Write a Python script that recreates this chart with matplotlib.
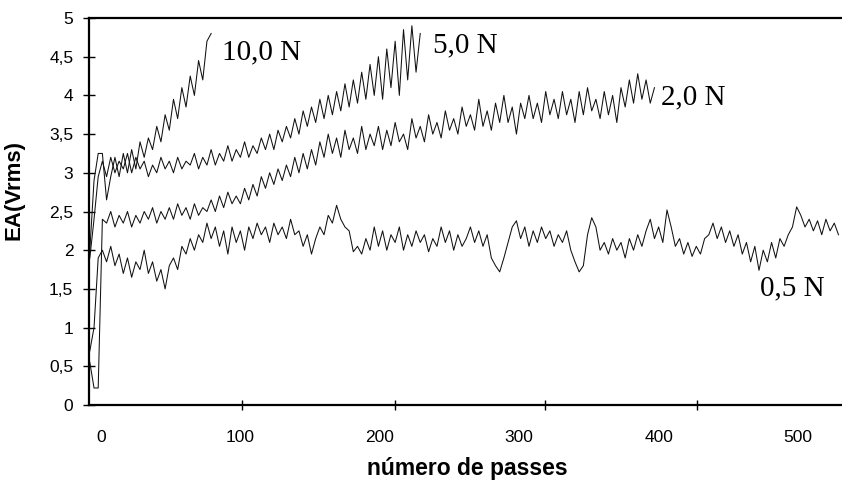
import numpy as np
import matplotlib.pyplot as plt

# EA (Vrms), one value every 3 passes, first pass at -8
start_pass = -8
step = 3

ea_10N = [2.0, 2.9, 3.25, 3.25, 2.65, 2.95, 3.2, 2.95, 3.25, 3.0,
          3.3, 3.05, 3.4, 3.2, 3.45, 3.3, 3.6, 3.4, 3.75, 3.55,
          3.95, 3.7, 4.1, 3.85, 4.25, 4.0, 4.45, 4.2, 4.7, 4.8]

ea_5N = [1.9, 2.4, 2.95, 3.15, 2.95, 3.2, 3.0, 3.15, 3.05, 3.25,
         3.0, 3.2, 3.05, 3.15, 2.95, 3.1, 3.0, 3.2, 3.05, 3.15,
         3.0, 3.2, 3.05, 3.15, 3.1, 3.25, 3.05, 3.2, 3.1, 3.3,
         3.1, 3.25, 3.15, 3.35, 3.15, 3.3, 3.2, 3.4, 3.2, 3.35,
         3.25, 3.45, 3.3, 3.5, 3.3, 3.55, 3.4, 3.6, 3.45, 3.7,
         3.5, 3.8, 3.6, 3.85, 3.65, 3.95, 3.7, 4.0, 3.75, 4.05,
         3.8, 4.15, 3.85, 4.2, 3.9, 4.3, 3.95, 4.4, 4.0, 4.5,
         3.95, 4.6, 4.1, 4.7, 4.0, 4.85, 4.2, 4.9, 4.3, 4.8]

ea_2N = [0.55, 0.22, 0.22, 2.4, 2.35, 2.5, 2.3, 2.45, 2.35, 2.5,
         2.3, 2.45, 2.35, 2.5, 2.4, 2.55, 2.35, 2.5, 2.4, 2.55,
         2.4, 2.6, 2.45, 2.55, 2.4, 2.6, 2.45, 2.55, 2.5, 2.65,
         2.5, 2.7, 2.55, 2.75, 2.6, 2.7, 2.6, 2.8, 2.65, 2.85,
         2.7, 2.95, 2.8, 3.0, 2.85, 3.05, 2.9, 3.1, 2.95, 3.2,
         3.0, 3.25, 3.05, 3.3, 3.1, 3.4, 3.2, 3.5, 3.25, 3.45,
         3.2, 3.55, 3.3, 3.45, 3.25, 3.6, 3.3, 3.5, 3.35, 3.6,
         3.3, 3.55, 3.35, 3.65, 3.4, 3.5, 3.3, 3.7, 3.45, 3.6,
         3.4, 3.75, 3.5, 3.65, 3.45, 3.8, 3.55, 3.7, 3.5, 3.85,
         3.6, 3.75, 3.55, 3.95, 3.6, 3.8, 3.55, 3.9, 3.65, 4.0,
         3.65, 3.85, 3.5, 3.9, 3.7, 4.0, 3.7, 3.9, 3.65, 4.05,
         3.75, 3.95, 3.7, 4.05, 3.75, 3.95, 3.65, 4.05, 3.75, 4.1,
         3.8, 3.95, 3.7, 4.05, 3.75, 4.0, 3.65, 4.1, 3.85, 4.2,
         3.9, 4.28, 3.95, 4.2, 3.9, 4.1]

ea_05N = [0.7, 1.0, 1.9, 2.0, 1.85, 2.05, 1.8, 1.95, 1.7, 1.9,
          1.65, 1.85, 1.75, 2.0, 1.7, 1.85, 1.6, 1.75, 1.5, 1.8,
          1.9, 1.75, 2.05, 1.95, 2.15, 2.0, 2.2, 2.1, 2.35, 2.15,
          2.3, 2.05, 2.25, 1.95, 2.3, 2.1, 2.25, 2.0, 2.3, 2.15,
          2.35, 2.2, 2.3, 2.1, 2.35, 2.2, 2.3, 2.15, 2.4, 2.2,
          2.25, 2.05, 2.2, 1.95, 2.15, 2.3, 2.2, 2.45, 2.35, 2.58,
          2.4, 2.3, 2.25, 1.98, 2.05, 1.95, 2.15, 2.0, 2.3, 2.05,
          2.25, 2.0, 2.2, 2.1, 2.3, 2.0, 2.2, 2.05, 2.25, 2.1,
          2.2, 1.98, 2.15, 2.05, 2.3, 2.1, 2.25, 2.0, 2.2, 2.05,
          2.15, 2.3, 2.1, 2.25, 2.05, 2.2, 1.9, 1.8, 1.72, 1.9,
          2.1, 2.3, 2.38, 2.15, 2.3, 2.05, 2.25, 2.1, 2.3, 2.15,
          2.25, 2.05, 2.2, 2.1, 2.25, 2.0, 1.85, 1.72, 1.8, 2.2,
          2.42, 2.3, 2.0, 2.1, 1.95, 2.15, 2.0, 2.1, 1.9, 2.15,
          2.0, 2.2, 2.05, 2.25, 2.4, 2.15, 2.3, 2.1, 2.52, 2.3,
          2.05, 2.15, 1.95, 2.1, 1.92, 2.05, 1.95, 2.15, 2.2, 2.35,
          2.15, 2.3, 2.1, 2.25, 2.05, 2.2, 1.95, 2.1, 1.85, 2.05,
          1.74, 2.0, 1.85, 2.1, 1.9, 2.15, 2.05, 2.2, 2.3, 2.56,
          2.45, 2.3, 2.4, 2.25, 2.38, 2.2, 2.4, 2.25, 2.35, 2.2]

# curve labels: text, pass, EA
labels = ['10,0 N', '5,0 N', '2,0 N', '0,5 N']
label_x = [87, 238, 402, 473]
label_y = [4.56, 4.65, 3.98, 1.51]

xticks = [0, 100, 200, 300, 400, 500]
xtick_marks = [101, 211, 318.5, 427.5]
yticks = [0, 0.5, 1, 1.5, 2, 2.5, 3, 3.5, 4, 4.5, 5]
ytick_labels = ['0', '0,5', '1', '1,5', '2', '2,5', '3', '3,5', '4', '4,5', '5']

fig = plt.figure(figsize=(8.42, 4.88), dpi=100)
ax = fig.add_axes([89 / 842, 83 / 488, 757 / 842, 387 / 488])

for series in [ea_10N, ea_5N, ea_2N, ea_05N]:
    passes = start_pass + step * np.arange(len(series))
    ax.plot(passes, series, color='#111111', lw=0.75)

for txt, lx, ly in zip(labels, label_x, label_y):
    ax.text(lx, ly, txt, family='Liberation Serif', fontsize=21, va='center', ha='left')

ax.set_xlim(-8.6, 534.4)
ax.set_ylim(0, 5)

ax.set_xticks(xticks)
ax.set_xticks(xtick_marks, minor=True)
ax.tick_params(axis='x', which='major', length=0, pad=18, labelsize=12.5)
ax.tick_params(axis='x', which='minor', direction='inout', length=7, width=1)
ax.set_yticks(yticks)
ax.set_yticklabels(ytick_labels)
ax.tick_params(axis='y', direction='inout', length=8.5, width=1, pad=7, labelsize=12.5)
for lab in ax.get_xticklabels() + ax.get_yticklabels():
    lab.set_family('Liberation Sans')

for side in ['left', 'top', 'bottom']:
    ax.spines[side].set_linewidth(1.6)
ax.spines['right'].set_visible(False)

ax.set_ylabel('EA(Vrms)', family='Liberation Sans', fontsize=16, fontweight='bold')
ax.yaxis.set_label_coords(-0.085, 0.556)
ax.set_xlabel('número de passes', family='Liberation Sans', fontsize=16.5, fontweight='bold')
ax.xaxis.set_label_coords(0.5, -0.135)

fig.savefig('out.png', dpi=100)
